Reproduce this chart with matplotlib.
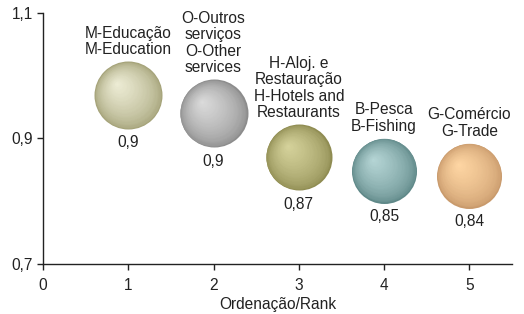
import numpy as np
import matplotlib
matplotlib.use('Agg')
import matplotlib.pyplot as plt
from matplotlib import transforms
from matplotlib.colors import to_rgb

plt.rcParams['font.family'] = ['Liberation Sans', 'DejaVu Sans']

# ── Data ──────────────────────────────────────────────────────────────────────
ranks = [1, 2, 3, 4, 5]
values = [0.969, 0.940, 0.870, 0.849, 0.841]
value_labels = ['0,9', '0,9', '0,87', '0,85', '0,84']
categories = ['M-Educação\nM-Education',
              'O-Outros\nserviços\nO-Other\nservices',
              'H-Aloj. e\nRestauração\nH-Hotels and\nRestaurants',
              'B-Pesca\nB-Fishing',
              'G-Comércio\nG-Trade']
radius_px = [34, 34, 33, 32.5, 32.5]

# edge (dark) and highlight (light) colours per bubble
EDGE = ['#a4a278', '#8c8c8c', '#8f8c52', '#5f8888', '#c99a6c']
HIGH = ['#eeedd6', '#dcdcdc', '#d6d39c', '#b6d6d6', '#ffd7a4']

FG = '#222222'
FS = 11.2

fig = plt.figure(figsize=(5.24, 3.14), dpi=100)
ax = fig.add_axes([0.082, 0.159, 0.895, 0.8])

N = 40
for x, y, r, ec, hc in zip(ranks, values, radius_px, EDGE, HIGH):
    r_pt = r * 72 / 100
    e, h = np.array(to_rgb(ec)), np.array(to_rgb(hc))
    for k in range(N):
        f = 1 - k / N
        t = (1 - f) ** 0.6
        col = e * (1 - t) + h * t
        off = (1 - f) * r_pt * 0.35
        tr = transforms.offset_copy(ax.transData, fig=fig, x=-off, y=off, units='points')
        ax.scatter([x], [y], s=(2 * r_pt * f) ** 2, color=col, lw=0,
                   transform=tr, zorder=3 + k * 0.01)

for x, y, r, cat, vl in zip(ranks, values, radius_px, categories, value_labels):
    r_pt = r * 72 / 100
    ax.annotate(cat, xy=(x, y), xytext=(0, r_pt + 3), textcoords='offset points',
                ha='center', va='bottom', fontsize=FS, color=FG, linespacing=1.12)
    ax.annotate(vl, xy=(x, y), xytext=(0, -r_pt - 4.5), textcoords='offset points',
                ha='center', va='top', fontsize=FS, color=FG)

ax.set_xlim(0, 5.5)
ax.set_ylim(0.7, 1.1)
ax.set_xticks([0, 1, 2, 3, 4, 5])
ax.set_yticks([0.7, 0.9, 1.1])
ax.set_yticklabels(['0,7', '0,9', '1,1'])
ax.tick_params(direction='out', length=4, width=1, colors=FG, labelsize=FS)
ax.tick_params(axis='x', pad=6)
ax.tick_params(axis='y', pad=3)
ax.set_xlabel('Ordenação/Rank', fontsize=FS, color=FG, labelpad=3)
for s in ('top', 'right'):
    ax.spines[s].set_visible(False)
for s in ('left', 'bottom'):
    ax.spines[s].set_color(FG)
    ax.spines[s].set_linewidth(1)

fig.savefig('out.png', dpi=100)
